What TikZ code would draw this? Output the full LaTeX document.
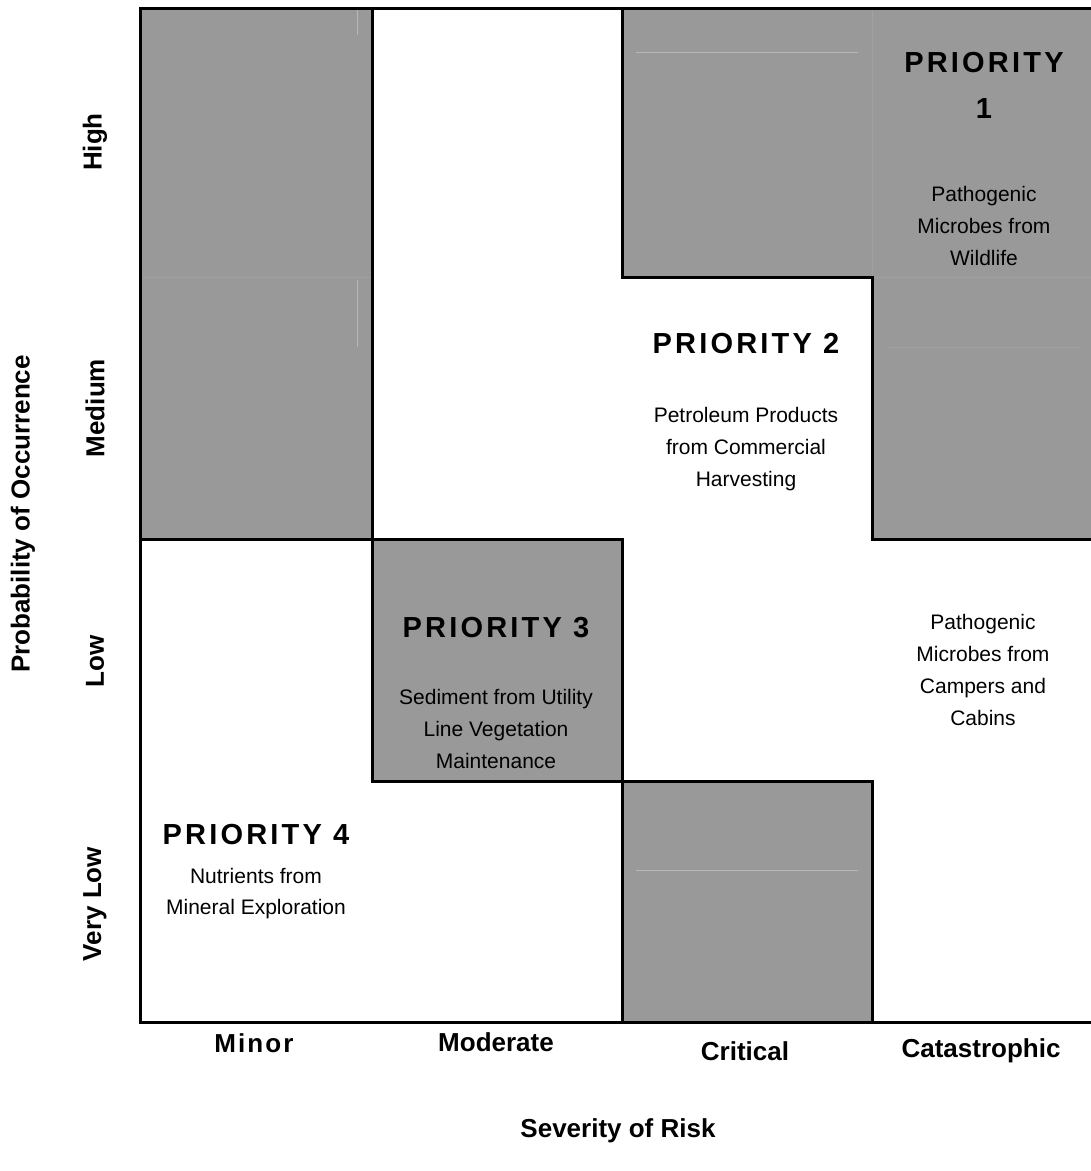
\documentclass[tikz,border=0pt]{standalone}
\usepackage{fontspec}
\setmainfont{Liberation Sans}
\newfontfamily\prifont{Liberation Sans}[LetterSpace=11]
\newfontfamily\spacedfont{Liberation Sans}[LetterSpace=8]

\begin{document}
\begin{tikzpicture}[x={(1pt,0pt)},y={(0pt,-1pt)},
  every node/.style={inner sep=0pt, outer sep=0pt, align=center},
  cell/.style={fill=black!40},
  faint/.style={draw=black!28, line width=1},
  fainter/.style={draw=black!37, line width=1},
  border/.style={draw=black, line width=3},
  prio/.style={font=\fontsize{29}{46}\selectfont\prifont\bfseries},
  body/.style={font=\fontsize{21}{32}\selectfont},
  axis/.style={font=\fontsize{26}{30}\selectfont\bfseries}]

\useasboundingbox (0,0) rectangle (1091,1171);

% shaded cells
\fill[cell] (140,8) rectangle (372,539);
\fill[cell] (622,8) rectangle (1091,277);
\fill[cell] (872,277) rectangle (1091,539);
\fill[cell] (372,539) rectangle (622,781);
\fill[cell] (622,781) rectangle (872,1022);

% light rules left inside the cells
\draw[faint] (357,9) -- (357,35);
\draw[faint] (357,280) -- (357,347);
\draw[fainter] (140,277) -- (372,277);
\draw[faint] (636,52) -- (858,52);
\draw[fainter] (872,10) -- (872,277);
\draw[fainter] (872,277) -- (1091,277);
\draw[fainter] (887,347) -- (1080,347);
\draw[faint] (636,870) -- (858,870);

% borders
\draw[border] (1091,8) -- (140,8) -- (140,1022) -- (1091,1022);
\draw[border] (372,8) -- (372,539) -- (140,539);
\draw[border] (372,539) rectangle (622,781);
\draw[border] (622,8) -- (622,277) -- (872,277) -- (872,539) -- (1091,539);
\draw[border] (622,781) rectangle (872,1022);

% cell texts
\node[prio] (p1) at (984,85) {PRIORITY\\1};
\node[body] (p1txt) at (984,226) {Pathogenic\\Microbes from\\Wildlife};
\node[prio] (p2) at (746,344) {PRIORITY 2};
\node[body] (p2txt) at (746,449) {Petroleum Products\\from Commercial\\Harvesting};
\node[prio] (p3) at (496,628) {PRIORITY 3};
\node[body] (p3txt) at (496,729) {Sediment from Utility\\Line Vegetation\\Maintenance};
\node[prio] (p4) at (256,835) {PRIORITY 4};
\node[body, font=\fontsize{21}{31}\selectfont] (p4txt) at (256,894) {Nutrients from\\Mineral Exploration};
\node[body] (camp) at (983,670) {Pathogenic\\Microbes from\\Campers and\\Cabins};

% probability axis
\node[axis, rotate=90] (prob) at (23,514) {Probability of Occurrence};
\node[axis, rotate=90] (high) at (95,142) {High};
\node[axis, rotate=90] (medium) at (95,408) {Medium};
\node[axis, rotate=90] (low) at (95,661) {Low};
\node[axis, rotate=90] (vlow) at (95,904) {Very Low};

% severity axis
\node[axis, font=\fontsize{26}{30}\selectfont\spacedfont\bfseries] (minor) at (254,1043) {Minor};
\node[axis] (moderate) at (496,1042) {Moderate};
\node[axis] (critical) at (745,1051) {Critical};
\node[axis] (catas) at (981,1051) {Catastrophic};
\node[axis] (sev) at (618,1131) {Severity of Risk};
\end{tikzpicture}
\end{document}
